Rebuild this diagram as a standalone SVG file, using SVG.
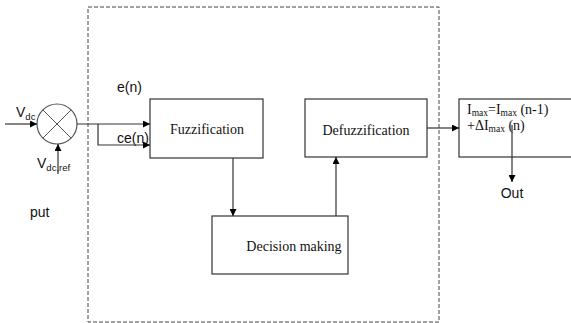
<svg xmlns="http://www.w3.org/2000/svg" width="571" height="323" viewBox="0 0 571 323">
<defs>
<marker id="ah" viewBox="0 0 10 10" refX="10" refY="5" markerWidth="7" markerHeight="7" orient="auto" markerUnits="userSpaceOnUse">
<path d="M0,0 L10,5 L0,10 z" fill="#000"/>
</marker>
</defs>
<style>
.box{fill:#fff;stroke:#333;stroke-width:1.2}
.ln{fill:none;stroke:#333;stroke-width:1.2}
.tm{font-family:"Liberation Serif",serif;font-size:14px;fill:#111}
.ar{font-family:"Liberation Sans",Arial,sans-serif;font-size:14px;fill:#111}
.sub{font-size:9.5px}
</style>
<rect x="88" y="7" width="351" height="315" fill="none" stroke="#444" stroke-width="1" stroke-dasharray="4,2"/>
<g id="summer">
<circle cx="57" cy="124" r="20" fill="#fff" stroke="#555" stroke-width="1.2"/>
<line x1="43" y1="110" x2="71" y2="138" stroke="#555"/>
<line x1="71" y1="110" x2="43" y2="138" stroke="#555"/>
</g>
<g id="labels">
<text class="ar" x="16" y="117" font-size="15">V<tspan class="sub" dy="3">dc</tspan></text>
<text class="ar" x="37" y="168" font-size="15">V<tspan class="sub" dy="3">dc,ref</tspan></text>
<text class="ar" x="30" y="217">put</text>
<text class="ar" x="117" y="92">e(n)</text>
<text class="ar" x="117" y="143">ce(n)</text>
</g>
<g id="fuzzification">
<rect class="box" x="150" y="99" width="113" height="59"/>
<text class="tm" x="207" y="134" text-anchor="middle">Fuzzification</text>
</g>
<g id="defuzzification">
<rect class="box" x="305" y="99" width="122" height="58"/>
<text class="tm" x="366" y="135" text-anchor="middle">Defuzzification</text>
</g>
<g id="decision">
<rect class="box" x="212" y="216" width="136" height="58"/>
<text class="tm" x="294" y="251" text-anchor="middle">Decision making</text>
</g>
<g id="output">
<rect class="box" x="459" y="99" width="120" height="58"/>
<text class="tm" x="467" y="114">I<tspan class="sub" dy="2">max</tspan><tspan dy="-2">=I</tspan><tspan class="sub" dy="2">max</tspan><tspan dy="-2"> (n-1)</tspan></text>
<text class="tm" x="467" y="130">+ΔI<tspan class="sub" dy="2">max</tspan><tspan dy="-2"> (n)</tspan></text>
<text class="ar" x="512" y="198" text-anchor="middle">Out</text>
</g>
<g id="connectors">
<line class="ln" x1="5" y1="124" x2="37" y2="124" marker-end="url(#ah)"/>
<line class="ln" x1="58" y1="174" x2="58" y2="144" marker-end="url(#ah)"/>
<line class="ln" x1="77" y1="124" x2="150" y2="124" marker-end="url(#ah)"/>
<polyline class="ln" points="98,124 98,145 150,145" marker-end="url(#ah)"/>
<line class="ln" x1="233" y1="158" x2="233" y2="216" marker-end="url(#ah)"/>
<line class="ln" x1="336" y1="216" x2="336" y2="157" marker-end="url(#ah)"/>
<line class="ln" x1="427" y1="128" x2="459" y2="128" marker-end="url(#ah)"/>
<line class="ln" x1="512" y1="125" x2="512" y2="182" marker-end="url(#ah)"/>
</g>
</svg>
